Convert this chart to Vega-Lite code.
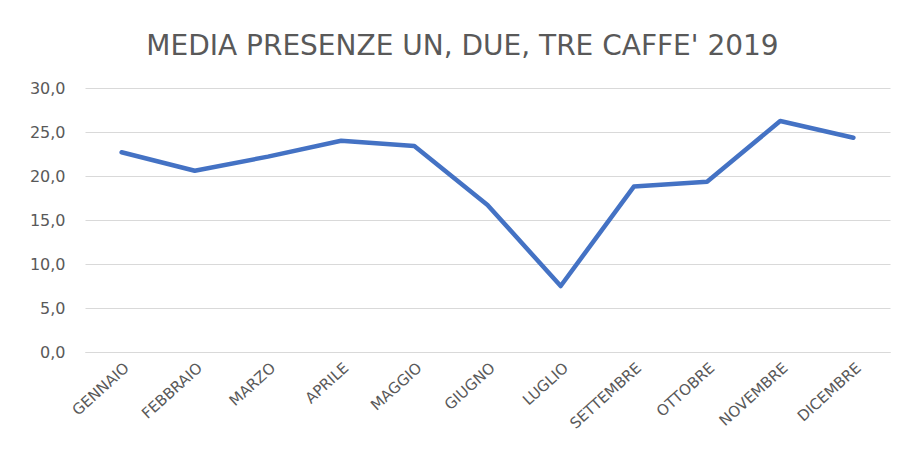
{
  "$schema": "https://vega.github.io/schema/vega-lite/v6.json",
  "width": 805,
  "height": 264,
  "autosize": {"type": "none"},
  "padding": {"left": 85, "top": 88, "right": 18, "bottom": 101},
  "background": "white",
  "title": {
    "text": "MEDIA PRESENZE UN, DUE, TRE CAFFE' 2019",
    "font": "DejaVu Sans",
    "fontSize": 28,
    "fontWeight": "normal",
    "color": "#595959",
    "anchor": "middle",
    "offset": 19,
    "dx": -25
  },
  "data": {
    "values": [
      {"mese": "GENNAIO", "media": 22.7},
      {"mese": "FEBBRAIO", "media": 20.6},
      {"mese": "MARZO", "media": 22.2},
      {"mese": "APRILE", "media": 24.0},
      {"mese": "MAGGIO", "media": 23.4},
      {"mese": "GIUGNO", "media": 16.7},
      {"mese": "LUGLIO", "media": 7.5},
      {"mese": "SETTEMBRE", "media": 18.8},
      {"mese": "OTTOBRE", "media": 19.35},
      {"mese": "NOVEMBRE", "media": 26.25},
      {"mese": "DICEMBRE", "media": 24.35}
    ]
  },
  "mark": {"type": "line", "color": "#4472C4", "strokeWidth": 4.5, "strokeCap": "round", "strokeJoin": "round"},
  "encoding": {
    "x": {
      "field": "mese",
      "type": "nominal",
      "sort": null,
      "scale": {"type": "point", "padding": 0.5},
      "axis": {
        "title": null,
        "labelAngle": -42,
        "labelFont": "DejaVu Sans",
        "labelFontSize": 15,
        "labelColor": "#595959",
        "ticks": false,
        "domainColor": "#d9d9d9",
        "domainWidth": 1,
        "labelPadding": 8,
        "grid": false
      }
    },
    "y": {
      "field": "media",
      "type": "quantitative",
      "scale": {"domain": [0, 30], "nice": false},
      "axis": {
        "title": null,
        "values": [0, 5, 10, 15, 20, 25, 30],
        "labelExpr": "replace(format(datum.value, '.1f'), '.', ',')",
        "labelFont": "DejaVu Sans",
        "labelFontSize": 16,
        "labelColor": "#595959",
        "labelPadding": 20,
        "ticks": false,
        "domain": false,
        "gridColor": "#d9d9d9",
        "gridWidth": 1
      }
    }
  },
  "config": {"view": {"stroke": null}}
}
